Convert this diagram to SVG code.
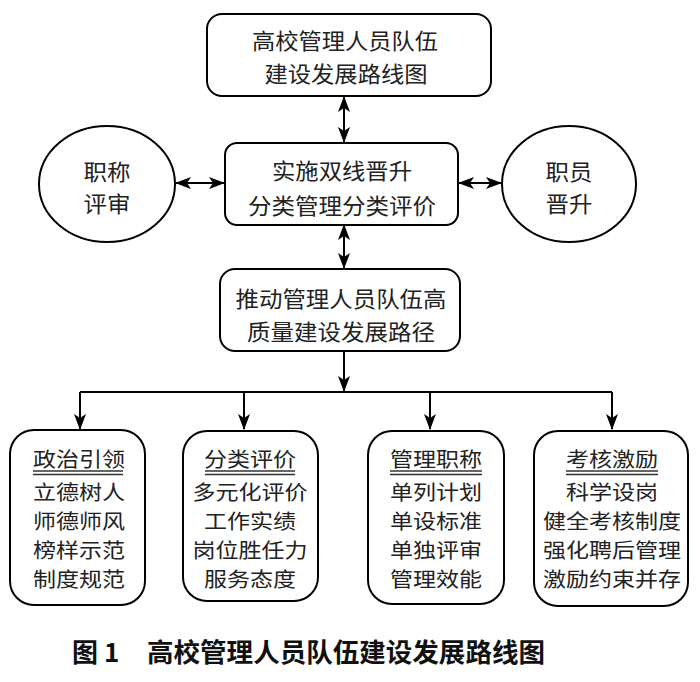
<svg xmlns="http://www.w3.org/2000/svg" width="700" height="682" viewBox="0 0 700 682">
<defs>
<marker id="ah" viewBox="0 0 16 12" markerWidth="16" markerHeight="12" refX="15" refY="6" orient="auto-start-reverse" markerUnits="userSpaceOnUse">
<path d="M0,0 L16,6 L0,12 L4,6 z" fill="#000"/>
</marker>
<style>
.box{fill:#fff;stroke:#000;stroke-width:2}
.t{font-family:"Noto Sans CJK SC","Noto Sans",sans-serif;font-size:22px;fill:#222;text-anchor:middle;dominant-baseline:central}
.s{font-size:20px}
.c{stroke:#000;stroke-width:2;fill:none}
.u{stroke:#333;stroke-width:1.5}
.cap{font-family:"Noto Sans CJK SC","Noto Sans",sans-serif;font-size:26px;font-weight:bold;fill:#111;dominant-baseline:central}
</style>
</defs>
<rect width="700" height="682" fill="#fff"/>
<g id="connectors">
<line class="c" x1="344" y1="97" x2="344" y2="142" marker-start="url(#ah)" marker-end="url(#ah)"/>
<line class="c" x1="176" y1="183" x2="224" y2="183" marker-start="url(#ah)" marker-end="url(#ah)"/>
<line class="c" x1="459" y1="183" x2="501" y2="183" marker-start="url(#ah)" marker-end="url(#ah)"/>
<line class="c" x1="344" y1="225" x2="344" y2="268" marker-start="url(#ah)" marker-end="url(#ah)"/>
<line class="c" x1="344" y1="351" x2="344" y2="391" marker-end="url(#ah)"/>
<line class="c" x1="80" y1="392" x2="612" y2="392"/>
<line class="c" x1="80" y1="392" x2="80" y2="429" marker-end="url(#ah)"/>
<line class="c" x1="244" y1="392" x2="244" y2="429" marker-end="url(#ah)"/>
<line class="c" x1="430" y1="392" x2="430" y2="429" marker-end="url(#ah)"/>
<line class="c" x1="612" y1="392" x2="612" y2="429" marker-end="url(#ah)"/>
</g>
<g id="top">
<rect class="box" x="207" y="14" width="284" height="82" rx="15"/>
<text class="t" x="345" y="39" textLength="186" lengthAdjust="spacingAndGlyphs">高校管理人员队伍</text>
<text class="t" x="346" y="72" textLength="163" lengthAdjust="spacingAndGlyphs">建设发展路线图</text>
</g>
<g id="mid">
<rect class="box" x="225" y="143" width="233" height="82" rx="12"/>
<text class="t" x="342" y="169" textLength="140" lengthAdjust="spacingAndGlyphs">实施双线晋升</text>
<text class="t" x="342" y="204" textLength="188" lengthAdjust="spacingAndGlyphs">分类管理分类评价</text>
</g>
<g id="left">
<ellipse class="box" cx="107" cy="184" rx="68" ry="58"/>
<text class="t" x="107" y="170" textLength="47" lengthAdjust="spacingAndGlyphs">职称</text>
<text class="t" x="107" y="202" textLength="47" lengthAdjust="spacingAndGlyphs">评审</text>
</g>
<g id="right">
<ellipse class="box" cx="569" cy="184" rx="67" ry="58"/>
<text class="t" x="569" y="170" textLength="47" lengthAdjust="spacingAndGlyphs">职员</text>
<text class="t" x="569" y="202" textLength="47" lengthAdjust="spacingAndGlyphs">晋升</text>
</g>
<g id="path">
<rect class="box" x="220" y="269" width="240" height="82" rx="15"/>
<text class="t" x="341" y="297" textLength="211" lengthAdjust="spacingAndGlyphs">推动管理人员队伍高</text>
<text class="t" x="341" y="330" textLength="188" lengthAdjust="spacingAndGlyphs">质量建设发展路径</text>
</g>
<g id="b1">
<rect class="box" x="10" y="430" width="135" height="175" rx="24"/>
<text class="t s" x="79" y="458" textLength="92" lengthAdjust="spacingAndGlyphs">政治引领</text>
<line class="u" x1="33" y1="471" x2="123" y2="471"/>
<line class="u" x1="33" y1="474.5" x2="123" y2="474.5"/>
<text class="t s" x="79" y="491" textLength="92" lengthAdjust="spacingAndGlyphs">立德树人</text>
<text class="t s" x="79" y="520" textLength="92" lengthAdjust="spacingAndGlyphs">师德师风</text>
<text class="t s" x="79" y="549" textLength="92" lengthAdjust="spacingAndGlyphs">榜样示范</text>
<text class="t s" x="79" y="578" textLength="92" lengthAdjust="spacingAndGlyphs">制度规范</text>
</g>
<g id="b2">
<rect class="box" x="183" y="431" width="135" height="170" rx="24"/>
<text class="t s" x="250" y="458" textLength="92" lengthAdjust="spacingAndGlyphs">分类评价</text>
<line class="u" x1="205" y1="471" x2="295" y2="471"/>
<line class="u" x1="205" y1="474.5" x2="295" y2="474.5"/>
<text class="t s" x="250" y="491" textLength="115" lengthAdjust="spacingAndGlyphs">多元化评价</text>
<text class="t s" x="250" y="520" textLength="92" lengthAdjust="spacingAndGlyphs">工作实绩</text>
<text class="t s" x="250" y="549" textLength="115" lengthAdjust="spacingAndGlyphs">岗位胜任力</text>
<text class="t s" x="250" y="578" textLength="92" lengthAdjust="spacingAndGlyphs">服务态度</text>
</g>
<g id="b3">
<rect class="box" x="368" y="431" width="136" height="173" rx="24"/>
<text class="t s" x="436" y="458" textLength="92" lengthAdjust="spacingAndGlyphs">管理职称</text>
<line class="u" x1="390" y1="471" x2="482" y2="471"/>
<line class="u" x1="390" y1="474.5" x2="482" y2="474.5"/>
<text class="t s" x="436" y="491" textLength="92" lengthAdjust="spacingAndGlyphs">单列计划</text>
<text class="t s" x="436" y="520" textLength="92" lengthAdjust="spacingAndGlyphs">单设标准</text>
<text class="t s" x="436" y="549" textLength="92" lengthAdjust="spacingAndGlyphs">单独评审</text>
<text class="t s" x="436" y="578" textLength="92" lengthAdjust="spacingAndGlyphs">管理效能</text>
</g>
<g id="b4">
<rect class="box" x="534" y="431" width="154" height="175" rx="24"/>
<text class="t s" x="612" y="458" textLength="92" lengthAdjust="spacingAndGlyphs">考核激励</text>
<line class="u" x1="566" y1="471" x2="658" y2="471"/>
<line class="u" x1="566" y1="474.5" x2="658" y2="474.5"/>
<text class="t s" x="612" y="491" textLength="92" lengthAdjust="spacingAndGlyphs">科学设岗</text>
<text class="t s" x="612" y="520" textLength="138" lengthAdjust="spacingAndGlyphs">健全考核制度</text>
<text class="t s" x="612" y="549" textLength="138" lengthAdjust="spacingAndGlyphs">强化聘后管理</text>
<text class="t s" x="612" y="578" textLength="138" lengthAdjust="spacingAndGlyphs">激励约束并存</text>
</g>
<g id="caption">
<text class="cap" x="72" y="650">图 1</text>
<text class="cap" x="147" y="650" textLength="398" lengthAdjust="spacingAndGlyphs">高校管理人员队伍建设发展路线图</text>
</g>
</svg>
